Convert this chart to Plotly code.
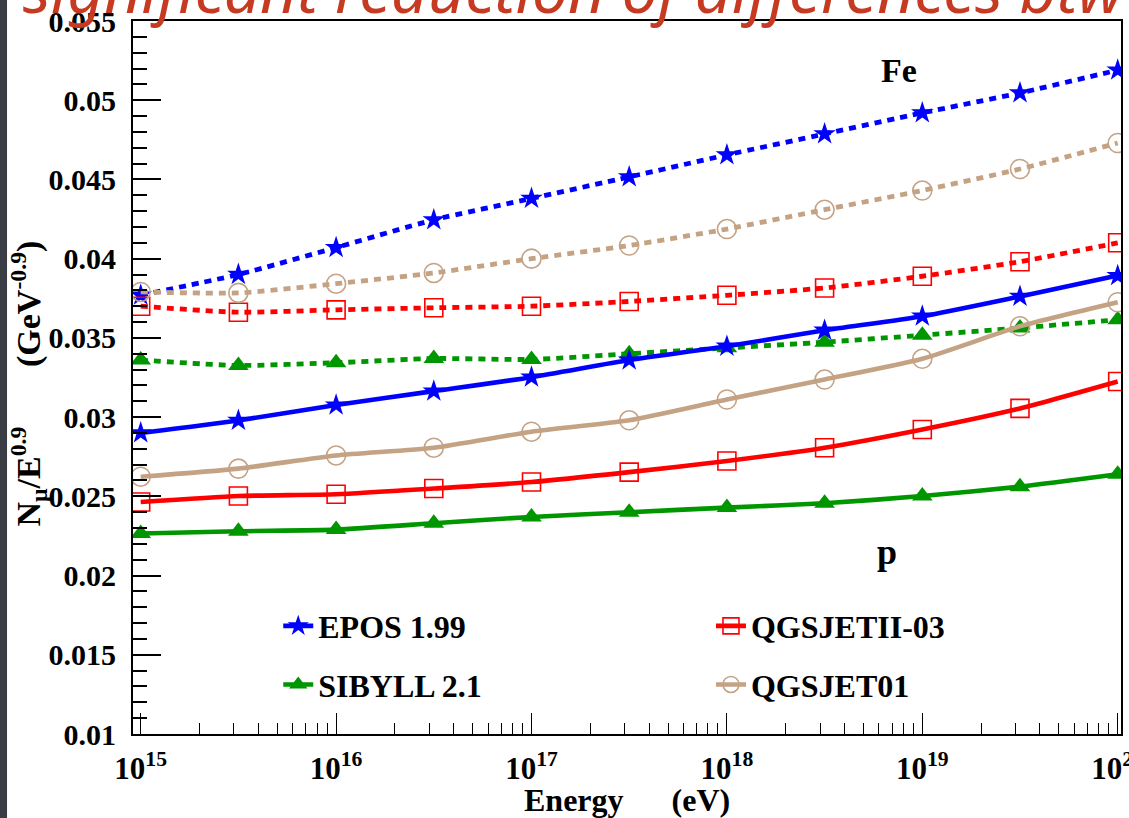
import plotly.graph_objects as go

# Shower energies (eV), half-decade steps
energy_eV = [1e15, 3.162e15, 1e16, 3.162e16, 1e17, 3.162e17,
             1e18, 3.162e18, 1e19, 3.162e19, 1e20]

# N_mu / E^0.9 for iron primaries (dotted curves)
epos_fe = [0.0377, 0.0390, 0.0407, 0.04245, 0.0438, 0.04516,
           0.04655, 0.04787, 0.0492, 0.05046, 0.0519]
qgsjet01_fe = [0.0379, 0.03784, 0.03842, 0.0391, 0.0400, 0.04083,
               0.04187, 0.04309, 0.0443, 0.04566, 0.0473]
qgsjetii_fe = [0.0370, 0.03662, 0.03677, 0.0369, 0.0370, 0.0373,
               0.03769, 0.03815, 0.03889, 0.03981, 0.0410]
sibyll_fe = [0.0336, 0.03326, 0.03343, 0.0337, 0.03364, 0.0340,
             0.03437, 0.03473, 0.03517, 0.03563, 0.03614]

# N_mu / E^0.9 for proton primaries (solid curves)
epos_p = [0.0290, 0.02979, 0.03076, 0.03164, 0.03252, 0.0336,
          0.03447, 0.03548, 0.03637, 0.03762, 0.03893]
qgsjet01_p = [0.02624, 0.02675, 0.02758, 0.02807, 0.02908, 0.0298,
              0.03111, 0.03237, 0.03368, 0.03573, 0.03725]
qgsjetii_p = [0.02464, 0.02502, 0.02513, 0.02549, 0.0259, 0.02653,
              0.02723, 0.02807, 0.02922, 0.03055, 0.03225]
sibyll_p = [0.02265, 0.0228, 0.0229, 0.0233, 0.0237, 0.0240,
            0.02429, 0.02456, 0.02502, 0.02561, 0.02639]

models = ["EPOS 1.99", "QGSJETII-03", "SIBYLL 2.1", "QGSJET01"]
colors = {"EPOS 1.99": "#0000ff", "QGSJETII-03": "#ff0000",
          "SIBYLL 2.1": "#009600", "QGSJET01": "#c4a284"}
symbols = {"EPOS 1.99": ("star", 17, 0), "QGSJETII-03": ("square-open", 18, 1.6),
           "SIBYLL 2.1": ("triangle-up", 18, 0), "QGSJET01": ("circle-open", 19, 1.6)}
legend_of = {"EPOS 1.99": "legend", "SIBYLL 2.1": "legend",
             "QGSJETII-03": "legend2", "QGSJET01": "legend2"}
fe_series = {"EPOS 1.99": epos_fe, "QGSJETII-03": qgsjetii_fe,
             "SIBYLL 2.1": sibyll_fe, "QGSJET01": qgsjet01_fe}
p_series = {"EPOS 1.99": epos_p, "QGSJETII-03": qgsjetii_p,
            "SIBYLL 2.1": sibyll_p, "QGSJET01": qgsjet01_p}

y_tickvals = [0.01, 0.015, 0.02, 0.025, 0.03, 0.035, 0.04, 0.045, 0.05, 0.055]
y_ticktext = ["0.01", "0.015", "0.02", "0.025", "0.03", "0.035", "0.04",
              "0.045", "0.05", "0.055"]
x_tickvals = [1e15, 1e16, 1e17, 1e18, 1e19, 1e20]
x_ticktext = ["10<sup>15</sup>", "10<sup>16</sup>", "10<sup>17</sup>",
              "10<sup>18</sup>", "10<sup>19</sup>", "10<sup>20</sup>"]
x_minor = [k * d for d in [1e15, 1e16, 1e17, 1e18, 1e19] for k in range(2, 10)]

SERIF = "Liberation Serif"

fig = go.Figure()

for m in models:
    sym, size, lw = symbols[m]
    marker = dict(symbol=sym, size=size, color=colors[m],
                  line=dict(color=colors[m], width=lw))
    # iron: dotted
    fig.add_trace(go.Scatter(
        x=energy_eV, y=fe_series[m], mode="lines+markers", name=m,
        line=dict(color=colors[m], width=4.8, dash="7px,6px", shape="spline",
                  smoothing=0.6),
        marker=marker, showlegend=False, legendgroup=m))
for m in models:
    sym, size, lw = symbols[m]
    marker = dict(symbol=sym, size=size, color=colors[m],
                  line=dict(color=colors[m], width=lw))
    # proton: solid
    fig.add_trace(go.Scatter(
        x=energy_eV, y=p_series[m], mode="lines+markers", name=m,
        line=dict(color=colors[m], width=4.6, shape="spline", smoothing=0.6),
        marker=marker, showlegend=True, legendgroup=m, legend=legend_of[m]))

legend_common = dict(font=dict(family=SERIF, size=32, color="black", weight="bold"),
                     bgcolor="rgba(0,0,0,0)", borderwidth=0, yanchor="top",
                     xanchor="left", traceorder="grouped", tracegroupgap=14,
                     itemwidth=30)

fig.update_layout(
    width=1129, height=818,
    margin=dict(l=133, r=8, t=21, b=84, autoexpand=False),
    paper_bgcolor="white", plot_bgcolor="white",
    font=dict(family=SERIF, color="black"),
    legend=dict(x=0.147, y=0.19, **legend_common),
    legend2=dict(x=0.585, y=0.19, **legend_common),
    xaxis=dict(
        type="log", range=[14.9606, 20.0169], automargin=False,
        tickvals=x_tickvals, ticktext=x_ticktext,
        ticks="inside", ticklen=21, tickwidth=1.3, tickcolor="black",
        minor=dict(tickvals=x_minor, ticks="inside", ticklen=11,
                   tickwidth=1.3, tickcolor="black"),
        showgrid=False, zeroline=False,
        showline=True, linewidth=2, linecolor="black", mirror=True,
        tickfont=dict(family=SERIF, size=31, color="black", weight="bold"),
        ticklabelstandoff=6, ticklabeloverflow="allow",
    ),
    yaxis=dict(
        range=[0.01, 0.055], automargin=False,
        tickvals=y_tickvals, ticktext=y_ticktext,
        ticks="inside", ticklen=28, tickwidth=1.5, tickcolor="black",
        minor=dict(dtick=0.001, tick0=0.01, ticks="inside", ticklen=14,
                   tickwidth=1.5, tickcolor="black"),
        showgrid=False, zeroline=False,
        showline=True, linewidth=2, linecolor="black", mirror=True,
        tickfont=dict(family=SERIF, size=30, color="black", weight="bold"),
        ticklabelstandoff=9, ticklabeloverflow="allow",
    ),
)

bold32 = dict(family=SERIF, size=32, color="black", weight="bold")

# axis titles
fig.add_annotation(
    xref="paper", yref="paper", x=0.5, y=-0.0926, xanchor="center", yanchor="middle",
    text="Energy      (eV)", showarrow=False, font=bold32)
fig.add_annotation(
    xref="paper", yref="paper", x=-0.106, y=0.492, xanchor="center", yanchor="middle",
    textangle=-90, showarrow=False,
    font=dict(family=SERIF, size=34, color="black", weight="bold"),
    text="N<sub>μ</sub>/E<sup>0.9</sup>       (GeV<sup>-0.9</sup>)")

# primary labels
fig.add_annotation(xref="paper", yref="paper", x=0.775, y=0.931,
                   xanchor="center", yanchor="middle", text="Fe",
                   showarrow=False, font=dict(family=SERIF, size=34,
                                              color="black", weight="bold"))
fig.add_annotation(xref="paper", yref="paper", x=0.763, y=0.255,
                   xanchor="center", yanchor="middle", text="p",
                   showarrow=False, font=dict(family=SERIF, size=36,
                                              color="black", weight="bold"))

# slide heading running across the top edge
fig.add_annotation(xref="paper", yref="paper", x=-0.113, y=1.045,
                   xanchor="left", yanchor="middle", showarrow=False,
                   text="significant reduction of differences btw",
                   font=dict(family="Noto Sans", size=64, color="#c63a22",
                             style="italic"))

# dark slide border on the left edge
fig.add_shape(type="rect", xref="paper", yref="paper",
              x0=-0.14, x1=-0.1275, y0=-0.2, y1=1.1,
              fillcolor="#3a3d44", line=dict(width=0), layer="below")

fig.write_html("out.html")
